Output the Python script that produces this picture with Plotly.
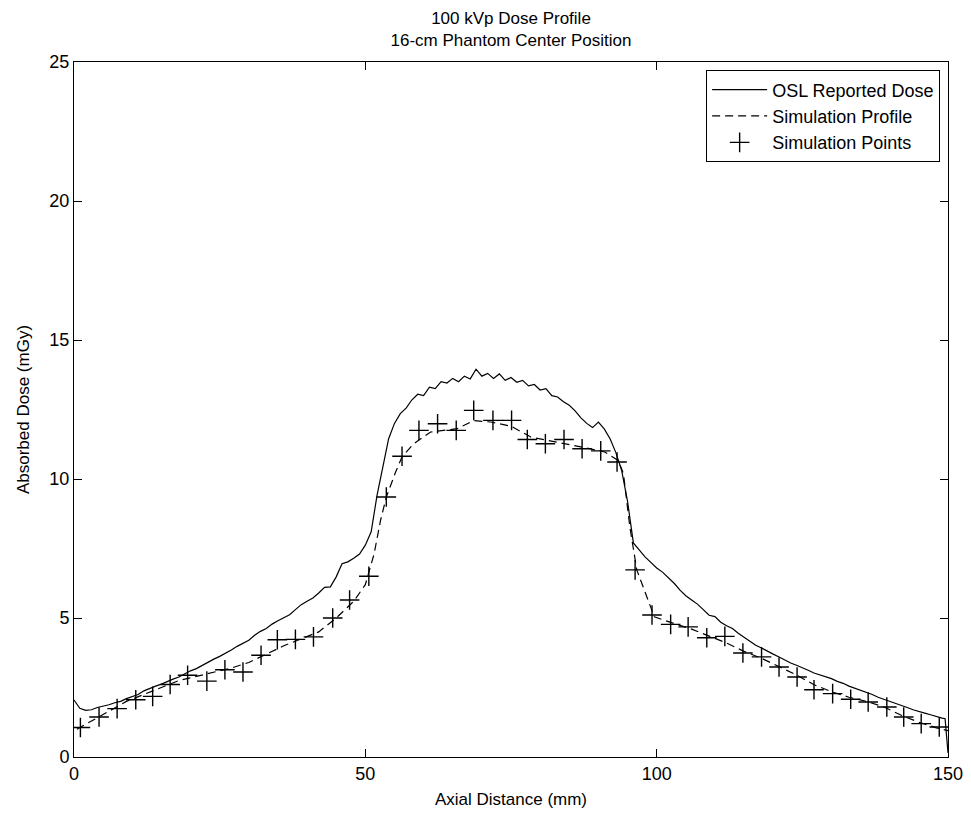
import plotly.graph_objects as go

# OSL reported dose (solid line)
osl_x = list(range(0, 150)) + [149.5, 150]
osl_y = [2.05, 1.75, 1.68, 1.70, 1.78, 1.82, 1.88, 1.95, 2.00, 2.10,
         2.18, 2.25, 2.38, 2.48, 2.55, 2.62, 2.72, 2.80, 2.88, 3.00,
         3.10, 3.18, 3.30, 3.40, 3.52, 3.62, 3.72, 3.85, 3.98, 4.08,
         4.20, 4.38, 4.52, 4.62, 4.78, 4.90, 5.02, 5.12, 5.30, 5.48,
         5.60, 5.72, 5.90, 6.10, 6.12, 6.48, 6.95, 7.02, 7.15, 7.30,
         7.62, 8.10, 9.40, 10.45, 11.45, 12.00, 12.35, 12.55, 12.85, 13.05,
         13.00, 13.30, 13.25, 13.50, 13.45, 13.62, 13.50, 13.70, 13.60, 13.95,
         13.70, 13.80, 13.62, 13.78, 13.55, 13.65, 13.48, 13.55, 13.35, 13.40,
         13.20, 13.25, 13.00, 12.95, 12.78, 12.65, 12.45, 12.20, 12.00, 11.85,
         12.05, 11.80, 11.45, 10.95, 10.30, 9.20, 7.70, 7.45, 7.20, 7.00,
         6.80, 6.65, 6.45, 6.25, 6.00, 5.80, 5.65, 5.50, 5.30, 5.10,
         5.05, 4.85, 4.72, 4.62, 4.45, 4.30, 4.15, 4.02, 3.92, 3.80,
         3.70, 3.60, 3.48, 3.38, 3.30, 3.22, 3.12, 3.02, 2.95, 2.88,
         2.82, 2.72, 2.65, 2.55, 2.48, 2.40, 2.32, 2.25, 2.15, 2.08,
         2.00, 1.92, 1.85, 1.78, 1.70, 1.65, 1.58, 1.52, 1.45, 1.40,
         1.38, 0.15]

# Simulation profile (dashed line)
prof_x = [0.5, 3, 6, 9, 12, 15, 18, 21, 24, 27, 30, 33, 36, 39, 42, 45, 48, 50,
          51.5, 52.6, 53.6, 55.2, 56.3, 58.3, 61.2, 65.8, 68.6, 71.5, 75, 78.4,
          83, 87.6, 91.1, 93.4, 94.3, 94.9, 95.4, 96.6, 97.7, 98.8, 99.6,
          103, 106, 109, 112, 115, 118, 121, 124, 127, 130, 133, 136, 139,
          142, 145, 148, 150]
prof_y = [1.0, 1.3, 1.65, 2.0, 2.25, 2.5, 2.75, 2.9, 3.05, 3.2, 3.4, 3.7, 4.0,
          4.25, 4.5, 5.0, 5.6, 6.2,
          7.3, 8.5, 9.35, 10.25, 10.8, 11.27, 11.69, 11.81, 12.1, 12.05, 11.9, 11.51,
          11.33, 11.13, 10.97, 10.67, 10.19, 9.23, 8.27, 6.72, 6.12, 5.52, 5.04,
          4.8, 4.6, 4.35, 4.1, 3.8, 3.55, 3.25, 2.95, 2.6, 2.35, 2.15, 2.0, 1.8,
          1.5, 1.25, 1.05, 0.95]

# Simulation points (+ markers)
pts_x = [1.1, 4.3, 7.4, 10.6, 13.5, 16.5, 19.5, 22.8, 25.9, 29.0, 32.1, 34.9,
         38.0, 41.1, 44.4, 47.3, 50.6, 53.6, 56.3, 59.2, 62.4, 65.6, 68.6, 71.9,
         75.1, 77.8, 80.9, 84.1, 87.2, 90.4, 93.2, 96.3, 99.2, 102.4, 105.4,
         108.6, 111.7, 114.8, 118.0, 121.0, 124.1, 127.0, 130.2, 133.3, 136.3,
         139.5, 142.4, 145.4, 148.5]
pts_y = [1.06, 1.44, 1.74, 2.06, 2.18, 2.61, 2.94, 2.73, 3.14, 3.06, 3.66, 4.22,
         4.23, 4.32, 5.0, 5.65, 6.5, 9.35, 10.82, 11.75, 11.99, 11.75, 12.47, 12.11,
         12.11, 11.42, 11.27, 11.42, 11.09, 11.01, 10.61, 6.73, 5.11, 4.77, 4.68,
         4.29, 4.34, 3.74, 3.60, 3.24, 2.88, 2.42, 2.28, 2.08, 1.98, 1.80, 1.44,
         1.20, 1.08]

x_ticks = [0, 50, 100, 150]
y_ticks = [0, 5, 10, 15, 20, 25]

FONT = "Liberation Sans, Arial, sans-serif"

fig = go.Figure()
fig.add_trace(go.Scatter(x=osl_x, y=osl_y, mode="lines", name="OSL Reported Dose",
                         line=dict(color="black", width=1.2)))
fig.add_trace(go.Scatter(x=prof_x, y=prof_y, mode="lines", name="Simulation Profile",
                         line=dict(color="black", width=1.2, dash="8px,5px")))
fig.add_trace(go.Scatter(x=pts_x, y=pts_y, mode="markers", name="Simulation Points",
                         marker=dict(symbol="cross-thin", size=14, color="black",
                                     line=dict(color="black", width=1.4))))

fig.update_layout(
    width=971, height=821,
    margin=dict(l=66, r=31, t=54, b=72),
    paper_bgcolor="white", plot_bgcolor="white",
    font=dict(family=FONT, size=18, color="black"),
    title=dict(text="100 kVp Dose Profile<br>16-cm Phantom Center Position",
               x=0.5, xref="paper", xanchor="center",
               y=1, yref="paper", yanchor="bottom", pad=dict(b=38),
               font=dict(family=FONT, size=17, color="black")),
    showlegend=True,
    legend=dict(x=0.991, xanchor="right", y=0.988, yanchor="top",
                bgcolor="white", bordercolor="black", borderwidth=1,
                font=dict(family=FONT, size=18, color="black"),
                tracegroupgap=0, itemwidth=55),
    xaxis=dict(range=[0, 150], tickvals=x_ticks, ticks="inside", ticklen=8,
               tickcolor="black", showline=True, linecolor="black", linewidth=1,
               mirror="ticks", showgrid=False, zeroline=False,
               tickfont=dict(family=FONT, size=18),
               title=dict(text="Axial Distance (mm)", standoff=10,
                          font=dict(family=FONT, size=17))),
    yaxis=dict(range=[0, 25], tickvals=y_ticks, ticks="inside", ticklen=8,
               tickcolor="black", showline=True, linecolor="black", linewidth=1,
               mirror="ticks", showgrid=False, zeroline=False,
               tickfont=dict(family=FONT, size=18),
               title=dict(text="Absorbed Dose (mGy)", standoff=15,
                          font=dict(family=FONT, size=17))),
)

fig.write_html("out.html")
